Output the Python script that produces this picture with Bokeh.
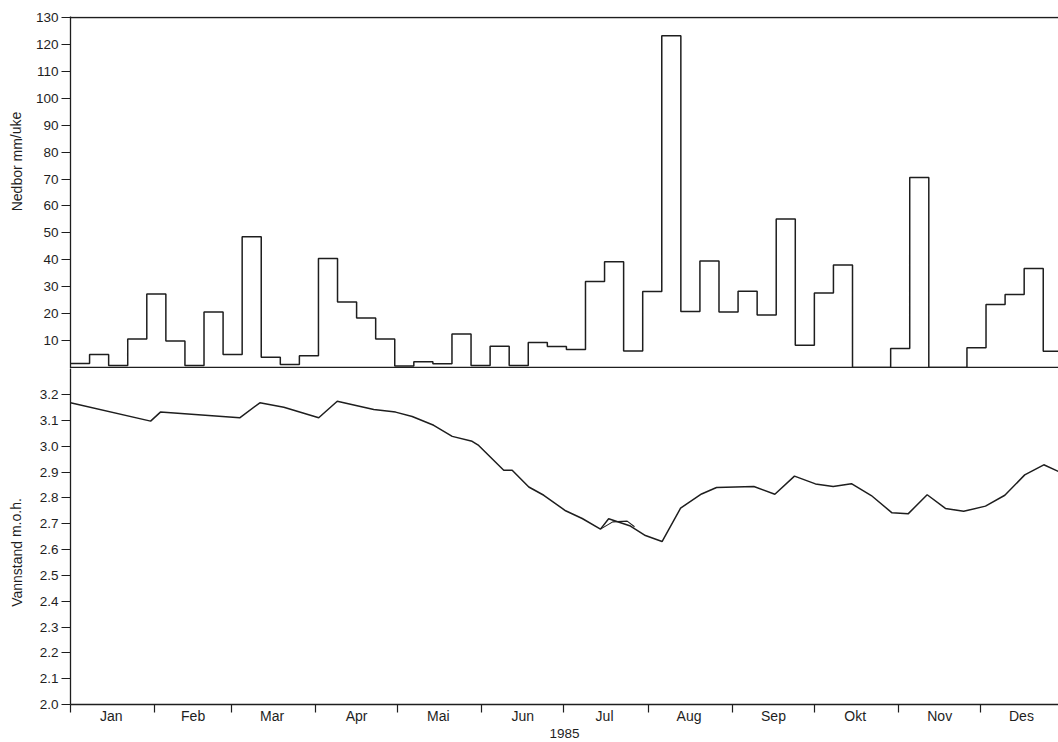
from math import pi
from bokeh.plotting import figure
from bokeh.models import Range1d, FixedTicker, Span, PrintfTickFormatter
from bokeh.layouts import column, row
from bokeh.core.properties import value
from bokeh.embed import file_html
from bokeh.resources import INLINE

# ---------------- data ----------------
months = ["Jan", "Feb", "Mar", "Apr", "Mai", "Jun", "Jul", "Aug", "Sep", "Okt", "Nov", "Des"]
month_start_day = [0, 31, 59, 90, 120, 151, 181, 212, 243, 273, 304, 334, 365]
month_mid_day = [15, 45, 74, 105, 135, 166, 196, 227, 258, 288, 319, 349]
year_label = "1985"
precip_title = "Nedbor mm/uke"
level_title = "Vannstand m.o.h."

weeks = list(range(1, 53))
precip = [1.5, 4.8, 0.7, 10.6, 27.3, 9.8, 0.7, 20.6, 4.8, 48.6,
          3.8, 1.1, 4.4, 40.5, 24.3, 18.4, 10.6, 0.6, 2.1, 1.4,
          12.4, 0.7, 7.9, 0.7, 9.3, 7.8, 6.7, 31.9, 39.3, 6.1,
          28.2, 123.2, 20.8, 39.6, 20.6, 28.3, 19.5, 55.2, 8.3, 27.7,
          38.1, 0.0, 0.0, 7.1, 70.6, 0.0, 0.0, 7.3, 23.4, 27.1,
          36.8, 6.0]
precip_ticks = [10, 20, 30, 40, 50, 60, 70, 80, 90, 100, 110, 120, 130]

level_day = [0, 29.4, 33.0, 62.1, 69.5, 78.3, 91.1, 97.9, 106.4, 111.3,
             119.3, 125.4, 133.3, 140.1, 147.4, 149.8, 159.0, 162.1, 168.2, 173.7,
             181.7, 187.8, 194.5, 197.5, 205.5, 211.0, 217.1, 223.9, 231.6, 237.1,
             250.8, 258.5, 265.7, 273.4, 279.9, 286.6, 293.9, 301.5, 307.4, 314.4,
             321.1, 327.8, 335.8, 342.9, 350.2, 357.2, 362.6]
level = [3.168, 3.097, 3.132, 3.110, 3.168, 3.151, 3.110, 3.174, 3.154, 3.142,
         3.132, 3.115, 3.081, 3.038, 3.019, 3.003, 2.907, 2.907, 2.842, 2.810,
         2.750, 2.720, 2.679, 2.719, 2.691, 2.654, 2.631, 2.760, 2.815, 2.840,
         2.844, 2.814, 2.884, 2.854, 2.844, 2.855, 2.809, 2.742, 2.738, 2.812,
         2.759, 2.748, 2.768, 2.810, 2.889, 2.928, 2.902]
# short second trace in July (the small loop)
level2_day = [194.5, 199.0, 204.3, 207.0]
level2 = [2.679, 2.707, 2.710, 2.688]
level_ticks = [2.0, 2.1, 2.2, 2.3, 2.4, 2.5, 2.6, 2.7, 2.8, 2.9, 3.0, 3.1, 3.2]

# ---------------- derived ----------------
week_start = [7 * (w - 1) for w in weeks]
step_x = week_start + [week_start[-1] + 7]
step_y = precip + [precip[-1]]

FONT = "Liberation Sans"
INK = "#1e1e1e"
LW = 1.5

xr = Range1d(0, 362.6)


def style_common(p):
    p.outline_line_color = None
    p.grid.visible = False
    p.background_fill_color = "white"
    p.border_fill_color = "white"


def style_yaxis(ax, ticks):
    ax.ticker = FixedTicker(ticks=ticks, minor_ticks=[])
    ax.major_tick_out = 9
    ax.major_tick_in = 0
    ax.minor_tick_out = 0
    ax.minor_tick_in = 0
    ax.axis_line_color = INK
    ax.axis_line_width = 1.3
    ax.major_tick_line_color = INK
    ax.major_tick_line_width = 1.2
    ax.major_label_text_font = FONT
    ax.major_label_text_font_size = "13.5px"
    ax.major_label_text_color = INK
    ax.major_label_standoff = 3


# ---------------- left strip holding the vertical axis titles ----------------
strip = figure(width=30, height=742, x_range=Range1d(0, 30), y_range=Range1d(742, 0),
               x_axis_location=None, y_axis_location=None,
               output_backend="svg", toolbar_location=None,
               min_border_left=0, min_border_right=0, min_border_top=0, min_border_bottom=0)
style_common(strip)
strip.text(x=[16, 16], y=[161, 552], text=[precip_title, level_title],
           angle=[pi / 2, pi / 2], text_align="center", text_baseline="middle",
           text_font=value(FONT), text_font_size="14px", text_color=INK)

# ---------------- top panel: precipitation ----------------
p1 = figure(width=1028, height=368, x_range=xr, y_range=Range1d(-0.37, 130.37),
            x_axis_location=None, output_backend="svg", toolbar_location=None,
            min_border_left=40, min_border_right=0, min_border_top=16, min_border_bottom=0)
style_common(p1)
style_yaxis(p1.yaxis[0], precip_ticks)

p1.step(x=step_x, y=step_y, mode="after", line_color=INK, line_width=LW)
p1.add_layout(Span(location=130, dimension="width", line_color=INK, line_width=1.3))
p1.add_layout(Span(location=0, dimension="width", line_color=INK, line_width=1.3))

# ---------------- bottom panel: water level ----------------
p2 = figure(width=1028, height=374, x_range=xr, y_range=Range1d(2.0, 3.3008),
            output_backend="svg", toolbar_location=None,
            min_border_left=40, min_border_right=0, min_border_top=0, min_border_bottom=38)
style_common(p2)
style_yaxis(p2.yaxis[0], level_ticks)
p2.yaxis[0].formatter = PrintfTickFormatter(format="%.1f")

xa = p2.xaxis[0]
xa.ticker = FixedTicker(ticks=month_mid_day, minor_ticks=month_start_day)
xa.major_label_overrides = {d: m for d, m in zip(month_mid_day, months)}
xa.major_tick_out = 0
xa.major_tick_in = 0
xa.minor_tick_out = 8
xa.minor_tick_in = 0
xa.minor_tick_line_color = INK
xa.minor_tick_line_width = 1.2
xa.axis_line_color = INK
xa.axis_line_width = 1.3
xa.major_label_text_font = FONT
xa.major_label_text_font_size = "14px"
xa.major_label_text_color = INK
xa.major_label_standoff = -5
xa.axis_label = year_label
xa.axis_label_text_font = FONT
xa.axis_label_text_font_size = "13.5px"
xa.axis_label_text_font_style = "normal"
xa.axis_label_text_color = INK
xa.axis_label_standoff = 2

p2.line(level_day, level, line_color=INK, line_width=LW)
p2.line(level2_day, level2, line_color=INK, line_width=1.1)

layout = row(strip, column(p1, p2, spacing=0), spacing=0)
open("out.html", "w").write(file_html(layout, INLINE))
